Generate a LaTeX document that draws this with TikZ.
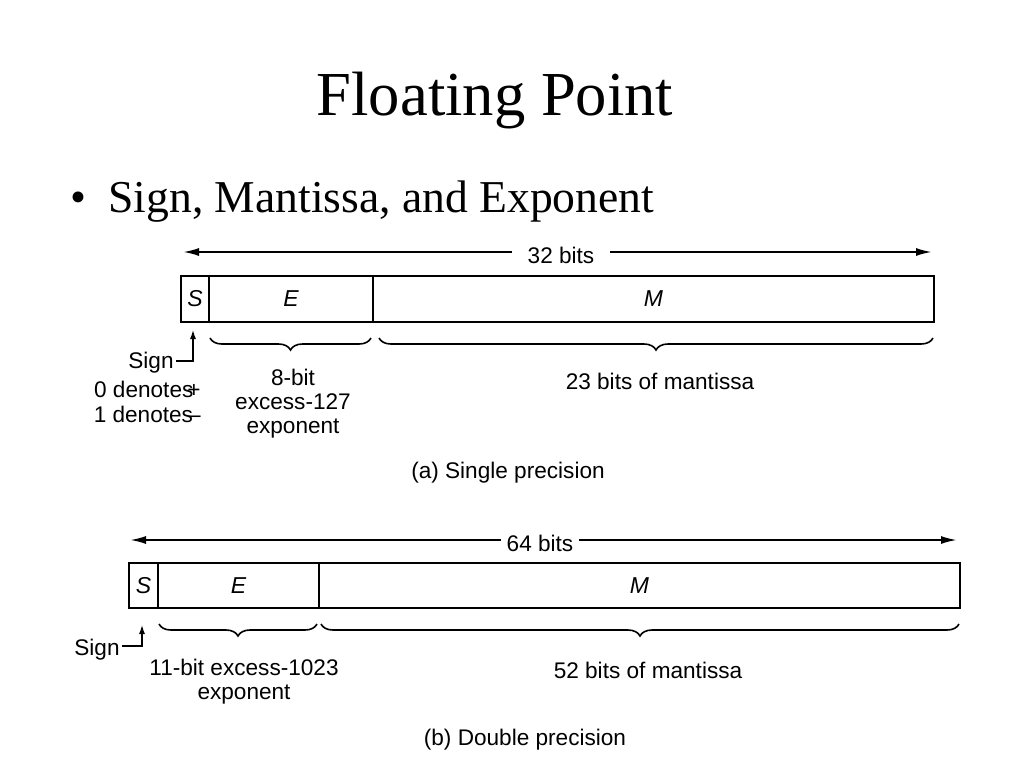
\documentclass[tikz,border=0pt]{standalone}
\usepackage{fontspec}
\setmainfont{Liberation Serif}
\newfontfamily\labelfont{Liberation Sans}
\usetikzlibrary{positioning,
        arrows.meta,
        decorations.pathreplacing}

\begin{document}
\begin{tikzpicture}[x=0.5pt,y=-0.5pt,
        field/.style={rectangle,draw,line width=1pt,inner sep=0pt,minimum height=23pt,font=\labelfont\itshape\fontsize{11.5}{13}\selectfont},
        lbl/.style={font=\labelfont\fontsize{11.3}{12}\selectfont,inner sep=1pt,align=center},
        span/.style={{Latex[length=8pt,width=4pt]}-{Latex[length=8pt,width=4pt]},line width=1pt},
        bracedown/.style={decorate,decoration={brace,mirror,amplitude=6pt},line width=0.8pt},
        signarrow/.style={-{Latex[length=5pt,width=3pt]},line width=1pt}]

    \useasboundingbox (0,0) rectangle (1024,768);

    \node [font=\fontsize{31.3}{36}\selectfont] (title) at (495,101) {Floating Point};
    \node [font=\fontsize{22.8}{27}\selectfont] (dot) at (78,202) {\textbullet};
    \node [font=\fontsize{22.8}{27}\selectfont,anchor=west,inner sep=0pt] (bullet) at (108,202) {Sign, Mantissa, and Exponent};

    % single precision
    \coordinate (w1l) at (183,252);
    \coordinate (w1r) at (932,252);
    \draw [span] (w1l) -- (w1r);
    \node [lbl,fill=white,inner xsep=8pt] (w1) at (561,255) {32 bits};

    \node [field,minimum width=14pt] (s1) at (195,299) {\raisebox{-1pt}{S}};
    \node [field,minimum width=82pt] (e1) at (291,299) {\raisebox{-1pt}{E}};
    \node [field,minimum width=280.5pt] (m1) at (653.5,299) {\raisebox{-1pt}{M}};

    \draw [bracedown] ([xshift=1pt,yshift=-7.5pt]e1.south west) -- ([xshift=-1.5pt,yshift=-7.5pt]e1.south east);
    \draw [bracedown] ([xshift=3.5pt,yshift=-7.5pt]m1.south west) -- ([xshift=-1pt,yshift=-7.5pt]m1.south east);

    \node [lbl,anchor=east] (sign1) at (176,363) {Sign};
    \coordinate (c1) at (193,361);
    \coordinate (t1) at (193,329);
    \draw [signarrow] (sign1.east |- c1) -- (c1) -- (t1);
    \node [lbl,anchor=east] (zero) at (203,389) {0 denotes\kern-3pt+};
    \node [lbl,anchor=east] (one) at (203,414) {1 denotes\kern-2.5pt\textendash};

    \node [lbl] (exp1) at (293,404) {8-bit\\excess-127\\exponent};
    \node [lbl] (man1) at (660,381) {23 bits of mantissa};
    \node [lbl] (capa) at (508,473) {(a) Single precision};

    % double precision
    \coordinate (w2l) at (130,540);
    \coordinate (w2r) at (957,540);
    \draw [span] (w2l) -- (w2r);
    \node [lbl,fill=white,inner xsep=3pt] (w2) at (540,543) {64 bits};

    \node [field,minimum width=14.5pt,minimum height=22.5pt] (s2) at (143.5,585.5) {\raisebox{-1pt}{S}};
    \node [field,minimum width=80.5pt,minimum height=22.5pt] (e2) at (238.5,585.5) {\raisebox{-1pt}{E}};
    \node [field,minimum width=320.5pt,minimum height=22.5pt] (m2) at (639.5,585.5) {\raisebox{-1pt}{M}};

    \draw [bracedown] ([xshift=1pt,yshift=-7.5pt]e2.south west) -- ([xshift=-1.5pt,yshift=-7.5pt]e2.south east);
    \draw [bracedown] ([xshift=1.5pt,yshift=-7.5pt]m2.south west) -- ([xshift=-1pt,yshift=-7.5pt]m2.south east);

    \node [lbl,anchor=east] (sign2) at (122,650) {Sign};
    \coordinate (c2) at (142,646);
    \coordinate (t2) at (142,624);
    \draw [signarrow] (sign2.east |- c2) -- (c2) -- (t2);

    \node [lbl] (exp2) at (244,682) {11-bit excess-1023\\exponent};
    \node [lbl] (man2) at (648,670) {52 bits of mantissa};
    \node [lbl] (capb) at (525,740) {(b) Double precision};
\end{tikzpicture}
\end{document}
